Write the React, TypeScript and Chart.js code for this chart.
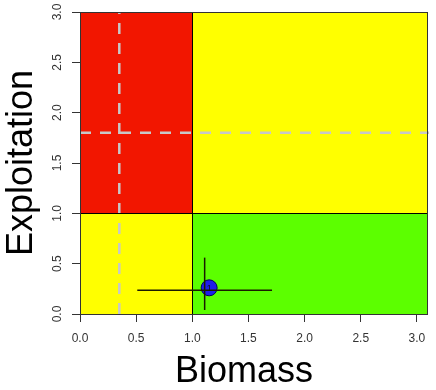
import React, { useEffect, useRef } from 'react';
import { Chart, registerables } from 'chart.js';

Chart.register(...registerables);

// ---- data ----
const xTicks = [0, 0.5, 1, 1.5, 2, 2.5, 3];
const yTicks = [0, 0.5, 1, 1.5, 2, 2.5, 3];
const xMax = 3.09;
const yMax = 3;
const biomassRef = 1;
const exploitRef = 1;
const biomassLimit = 0.35;
const exploitLimit = 1.8;
const pointLabels = ['1'];
const pointBiomass = [1.15];
const pointExploit = [0.26];
const biomassLow = [0.51];
const biomassHigh = [1.71];
const biomassBarAt = [0.235];
const exploitLow = [0.04];
const exploitHigh = [0.56];
const exploitBarAt = [1.11];
const xTitle = 'Biomass';
const yTitle = 'Exploitation';

// ---- styles ----
const RED = '#F21600';
const YELLOW = '#FFFF00';
const GREEN = '#5CFF00';
const DASH = '#C8C8C8';
const FONT = '"Liberation Sans", Arial, sans-serif';

const zonesPlugin = {
  id: 'zones',
  beforeDraw(chart: any) {
    const { ctx, scales } = chart;
    const x = scales.x, y = scales.y;
    const x0 = x.getPixelForValue(0), x1 = x.getPixelForValue(biomassRef), x2 = x.getPixelForValue(xMax);
    const y0 = y.getPixelForValue(0), y1 = y.getPixelForValue(exploitRef), y2 = y.getPixelForValue(yMax);
    ctx.save();
    ctx.fillStyle = RED; ctx.fillRect(x0, y2, x1 - x0, y1 - y2);
    ctx.fillStyle = YELLOW; ctx.fillRect(x1, y2, x2 - x1, y1 - y2);
    ctx.fillStyle = YELLOW; ctx.fillRect(x0, y1, x1 - x0, y0 - y1);
    ctx.fillStyle = GREEN; ctx.fillRect(x1, y1, x2 - x1, y0 - y1);
    ctx.restore();
  },
  beforeDatasetsDraw(chart: any) {
    const { ctx, scales, chartArea } = chart;
    const x = scales.x, y = scales.y;
    ctx.save();
    ctx.strokeStyle = DASH;
    ctx.lineWidth = 2.5;
    ctx.setLineDash([11, 9]);
    const lx = x.getPixelForValue(biomassLimit);
    ctx.beginPath(); ctx.moveTo(lx, chartArea.bottom); ctx.lineTo(lx, chartArea.top); ctx.stroke();
    const ly = y.getPixelForValue(exploitLimit);
    ctx.beginPath(); ctx.moveTo(chartArea.left, ly); ctx.lineTo(chartArea.right + 2, ly); ctx.stroke();
    ctx.setLineDash([]);
    ctx.strokeStyle = '#000';
    ctx.lineWidth = 1;
    const rx = Math.round(x.getPixelForValue(biomassRef)) + 0.5;
    ctx.beginPath(); ctx.moveTo(rx, chartArea.top); ctx.lineTo(rx, chartArea.bottom); ctx.stroke();
    const ry = Math.round(y.getPixelForValue(exploitRef)) + 0.5;
    ctx.beginPath(); ctx.moveTo(chartArea.left, ry); ctx.lineTo(chartArea.right, ry); ctx.stroke();
    ctx.strokeStyle = '#333';
    ctx.strokeRect(chartArea.left + 0.5, chartArea.top + 0.5, chartArea.right - chartArea.left, chartArea.bottom - chartArea.top);
    ctx.restore();
  },
  afterDatasetsDraw(chart: any) {
    const { ctx } = chart;
    const meta = chart.getDatasetMeta(0);
    ctx.save();
    ctx.fillStyle = '#111';
    ctx.font = `9px ${FONT}`;
    ctx.textAlign = 'center';
    ctx.textBaseline = 'middle';
    meta.data.forEach((el: any, i: number) => {
      ctx.fillText(pointLabels[i], el.x, el.y + 1);
    });
    ctx.restore();
  },
  afterDraw(chart: any) {
    const { ctx, scales } = chart;
    const y = scales.y;
    ctx.save();
    ctx.fillStyle = '#333';
    ctx.font = `12px ${FONT}`;
    ctx.textAlign = 'center';
    ctx.textBaseline = 'middle';
    yTicks.forEach((v) => {
      const py = y.getPixelForValue(v);
      ctx.save();
      ctx.translate(58, py);
      ctx.rotate(-Math.PI / 2);
      ctx.fillText(v.toFixed(1), 0, 0);
      ctx.restore();
    });
    // x axis title (R centres it slightly left of the plot region)
    ctx.fillStyle = '#000';
    ctx.font = `36px ${FONT}`;
    ctx.textBaseline = 'alphabetic';
    ctx.fillText(xTitle, 244, 382);
    ctx.restore();
  },
};

export default function App() {
  const ref = useRef<HTMLCanvasElement | null>(null);
  useEffect(() => {
    if (!ref.current) return;
    const datasets: any[] = [
      {
        label: 'stock',
        data: pointBiomass.map((b, i) => ({ x: b, y: pointExploit[i] })),
        backgroundColor: '#1E1EEB',
        borderColor: '#00005A',
        borderWidth: 1,
        pointRadius: 8,
        showLine: false,
        order: 2,
      },
    ];
    pointBiomass.forEach((_, i) => {
      datasets.push({
        label: 'biomass range',
        data: [{ x: biomassLow[i], y: biomassBarAt[i] }, { x: biomassHigh[i], y: biomassBarAt[i] }],
        showLine: true,
        borderColor: '#1a1a00',
        borderWidth: 1.5,
        pointRadius: 0,
        order: 1,
      });
      datasets.push({
        label: 'exploitation range',
        data: [{ x: exploitBarAt[i], y: exploitLow[i] }, { x: exploitBarAt[i], y: exploitHigh[i] }],
        showLine: true,
        borderColor: '#1a1a00',
        borderWidth: 1.5,
        pointRadius: 0,
        order: 1,
      });
    });
    const chart = new Chart(ref.current, {
      type: 'scatter',
      data: { datasets },
      options: {
        animation: false,
        responsive: false,
        layout: { padding: { top: 12, right: 9, left: 0, bottom: 0 } },
        plugins: { legend: { display: false }, tooltip: { enabled: false } },
        scales: {
          x: {
            type: 'linear',
            min: 0,
            max: xMax,
            afterBuildTicks: (s: any) => { s.ticks = xTicks.map((v) => ({ value: v })); },
            afterFit: (s: any) => { s.height = 76; },
            grid: { drawOnChartArea: false, drawTicks: true, tickLength: 8, color: '#333' },
            border: { display: true, color: '#333' },
            ticks: {
              font: { family: FONT, size: 12 },
              color: '#333',
              padding: 9,
              maxRotation: 0,
              autoSkip: false,
              callback: (v: any) => Number(v).toFixed(1),
            },
            title: { display: false },
          },
          y: {
            type: 'linear',
            min: 0,
            max: yMax,
            afterBuildTicks: (s: any) => { s.ticks = yTicks.map((v) => ({ value: v })); },
            afterFit: (s: any) => { s.width = 80; },
            grid: { drawOnChartArea: false, drawTicks: true, tickLength: 8, color: '#333' },
            border: { display: true, color: '#333' },
            ticks: { display: false },
            title: {
              display: true,
              text: yTitle,
              color: '#000',
              font: { family: FONT, size: 36, lineHeight: 1 },
              padding: { top: 4, bottom: 0 },
            },
          },
        },
      },
      plugins: [zonesPlugin],
    } as any);
    return () => chart.destroy();
  }, []);
  return (
    <div style={{ position: 'fixed', left: 0, top: 0, width: 436, height: 390, background: '#fff' }}>
      <canvas ref={ref} width={436} height={390} style={{ width: 436, height: 390, display: 'block' }} />
    </div>
  );
}
